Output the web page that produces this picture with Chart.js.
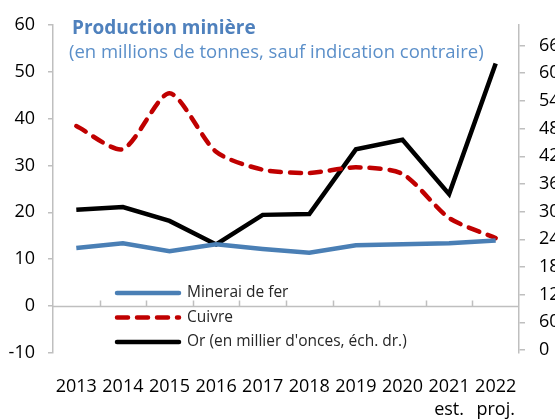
<!DOCTYPE html>
<html>
<head>
<meta charset="utf-8">
<script src="https://cdn.jsdelivr.net/npm/chart.js@4.4.0/dist/chart.umd.min.js"></script>
<style>
  body { margin: 0; overflow: hidden; background: #fff; }
  #wrap { width: 580px; height: 419px; }
</style>
</head>
<body>
<div id="wrap"><canvas id="chart_mines"></canvas></div>
<script>
let years = ['2013', '2014', '2015', '2016', '2017', '2018', '2019', '2020', '2021', '2022']
let yearNotes = ['', '', '', '', '', '', '', '', 'est.', 'proj.']
let ironOre = [12.4, 13.4, 11.7, 13.2, 12.2, 11.4, 13.0, 13.2, 13.4, 14.0]
let copper = [38.4, 33.5, 45.4, 32.9, 29.1, 28.4, 29.6, 28.2, 18.8, 14.5]
let gold = [304, 310, 280, 229, 293, 295, 435, 456, 338, 621]
let leftTicks = [-10, 0, 10, 20, 30, 40, 50, 60]
let rightTicks = [0, 60, 120, 180, 240, 300, 360, 420, 480, 540, 600, 660]

let title = 'Production minière'
let subtitle = '(en millions de tonnes, sauf indication contraire)'
let seriesNames = ['Minerai de fer', 'Cuivre', "Or (en millier d'onces, éch. dr.)"]

let axisGray = '#bfbfbf'
let font = "'Open Sans', sans-serif"

let labels = years.map((y, i) => yearNotes[i] ? [y, yearNotes[i]] : y)

// zero line with small category ticks pointing up, like the excel original
let zeroLine = {
    id: 'zeroLine',
    beforeDatasetsDraw(chart) {
        let ctx = chart.ctx
        let area = chart.chartArea
        let x = chart.scales.x
        let y0 = Math.round(chart.scales.y.getPixelForValue(0)) + 0.5
        ctx.save()
        ctx.strokeStyle = axisGray
        ctx.lineWidth = 1.5
        ctx.beginPath()
        ctx.moveTo(area.left, y0)
        ctx.lineTo(area.right, y0)
        let step = x.getPixelForValue(1) - x.getPixelForValue(0)
        for (let i = 1; i < years.length; i++) {
            let px = Math.round(x.getPixelForValue(i) - step / 2) + 0.5
            ctx.moveTo(px, y0)
            ctx.lineTo(px, y0 - 6)
        }
        ctx.stroke()
        ctx.restore()
    }
}

let titleAndLegend = {
    id: 'titleAndLegend',
    afterDraw(chart) {
        let ctx = chart.ctx
        let area = chart.chartArea
        ctx.save()
        ctx.textBaseline = 'middle'
        ctx.textAlign = 'left'
        ctx.fillStyle = '#4f81bd'
        ctx.font = "bold 19px " + font
        ctx.fillText(title, area.left + 19, 29)
        ctx.fillStyle = '#5b8fc9'
        ctx.font = "18.5px " + font
        ctx.fillText(subtitle, area.left + 16, 53)

        ctx.font = "15.5px " + font
        chart.data.datasets.forEach((ds, i) => {
            let yy = area.bottom - 60 + i * 24.5
            ctx.strokeStyle = ds.borderColor
            ctx.lineWidth = ds.borderWidth
            ctx.lineCap = 'round'
            ctx.setLineDash(ds.borderDash || [])
            ctx.beginPath()
            ctx.moveTo(area.left + 64, yy)
            ctx.lineTo(area.left + 126, yy)
            ctx.stroke()
            ctx.setLineDash([])
            ctx.fillStyle = '#262626'
            ctx.fillText(ds.label, area.left + 134, yy)
        })
        ctx.restore()
    }
}

function createChart() {
    let ctx = document.getElementById('chart_mines').getContext('2d')
    new Chart(ctx, {
        type: 'line',
        data: {
            labels: labels,
            datasets: [{
                label: seriesNames[0],
                data: ironOre,
                borderColor: '#4a7fb5',
                borderWidth: 4.5,
                pointRadius: 0,
                yAxisID: 'y'
            }, {
                label: seriesNames[1],
                data: copper,
                borderColor: '#c00000',
                borderWidth: 4.5,
                borderDash: [11, 9],
                borderCapStyle: 'round',
                tension: 0.25,
                pointRadius: 0,
                yAxisID: 'y'
            }, {
                label: seriesNames[2],
                data: gold,
                borderColor: '#000000',
                borderWidth: 4.5,
                pointRadius: 0,
                yAxisID: 'y2'
            }]
        },
        options: {
            responsive: true,
            maintainAspectRatio: false,
            animation: false,
            layout: { padding: { top: 18, right: 0, left: 0, bottom: 0 } },
            plugins: {
                legend: { display: false },
                tooltip: { enabled: false }
            },
            scales: {
                x: {
                    offset: true,
                    grid: { display: false },
                    border: { display: false },
                    ticks: { color: '#000', font: { family: font, size: 18, lineHeight: 1.3 }, padding: 14, maxRotation: 0, autoSkip: false },
                    afterFit: s => { s.height = 66 }
                },
                y: {
                    position: 'left',
                    min: -10,
                    max: 60,
                    afterBuildTicks: s => { s.ticks = leftTicks.map(v => ({ value: v })) },
                    grid: { drawOnChartArea: false, color: axisGray, tickLength: 5, lineWidth: 1.5 },
                    border: { color: axisGray, width: 1.5 },
                    ticks: { color: '#000', font: { family: font, size: 18 }, padding: 13 },
                    afterFit: s => { s.width = 53 }
                },
                y2: {
                    position: 'right',
                    min: -6.4,
                    max: 705,
                    afterBuildTicks: s => { s.ticks = rightTicks.map(v => ({ value: v })) },
                    grid: { drawOnChartArea: false, color: axisGray, tickLength: 6, lineWidth: 1.5 },
                    border: { color: axisGray, width: 1.5 },
                    ticks: { color: '#000', font: { family: font, size: 18 }, padding: 14 },
                    afterFit: s => { s.width = 61 }
                }
            }
        },
        plugins: [zeroLine, titleAndLegend]
    })
}

createChart()
</script>
</body>
</html>
